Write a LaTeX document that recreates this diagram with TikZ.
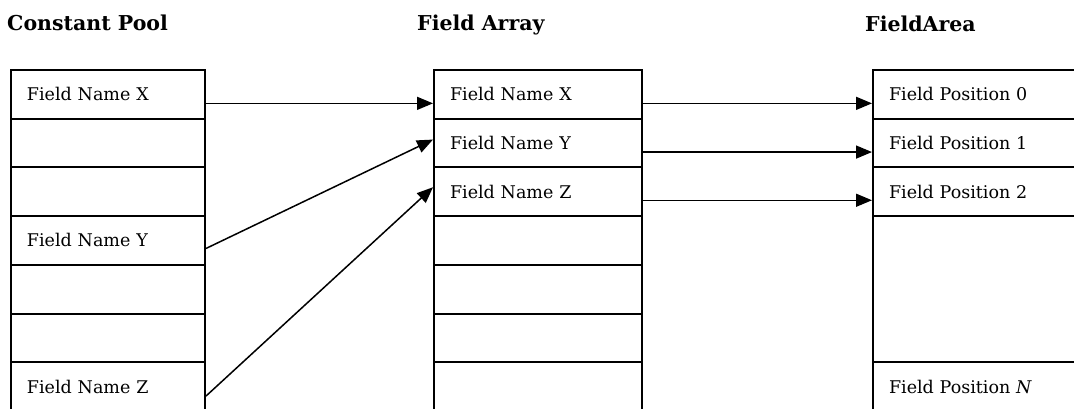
\documentclass[tikz,border=0pt]{standalone}
\usepackage{fontspec}
\setmainfont{DejaVu Serif}
\usetikzlibrary{arrows.meta}
\begin{document}
\begin{tikzpicture}[x=1pt,y=-1pt,
  cell/.style={draw, line width=2pt, anchor=north west, inner xsep=16pt,
    inner ysep=0pt, minimum height=48.7pt, align=left,
    font=\fontsize{17.5}{20}\selectfont},
  cpcell/.style={cell, minimum width=194pt, text width=162pt},
  facell/.style={cell, minimum width=208pt, text width=176pt},
  frcell/.style={cell, minimum width=220pt, text width=188pt},
  title/.style={anchor=base west, inner sep=0pt,
    font=\bfseries\fontsize{20.5}{24}\selectfont},
  link/.style={line width=1.5pt, -{Triangle[length=16pt,width=13pt]}}
]
\useasboundingbox (0,0) rectangle (1074,408);
\clip (0,0) rectangle (1074,408);

% column headings
\node[title] (tcp) at (7,30) {Constant Pool};
\node[title] (tfa) at (417,30) {Field Array};
\node[title] (tfr) at (865,31) {FieldArea};

% constant pool entries
\node[cpcell] (cp1) at (10,69.0)  {Field Name X};
\node[cpcell] (cp2) at (10,117.7) {};
\node[cpcell] (cp3) at (10,166.4) {};
\node[cpcell] (cp4) at (10,215.1) {Field Name Y};
\node[cpcell] (cp5) at (10,263.8) {};
\node[cpcell] (cp6) at (10,312.5) {};
\node[cpcell] (cp7) at (10,361.2) {Field Name Z};

% field array entries
\node[facell] (fa1) at (433,69.0)  {Field Name X};
\node[facell] (fa2) at (433,117.7) {Field Name Y};
\node[facell] (fa3) at (433,166.4) {Field Name Z};
\node[facell] (fa4) at (433,215.1) {};
\node[facell] (fa5) at (433,263.8) {};
\node[facell] (fa6) at (433,312.5) {};
\node[facell] (fa7) at (433,361.2) {};

% field area slots
\node[frcell] (fr0) at (872,69.0)  {Field Position 0};
\node[frcell] (fr1) at (872,117.7) {Field Position 1};
\node[frcell] (fr2) at (872,166.4) {Field Position 2};
\node[frcell, minimum height=146.1pt] (frm) at (872,215.1) {};
\node[frcell] (frn) at (872,361.2) {Field Position \textit{N}};

% constant pool -> field array
\draw[link] ([yshift=-9pt]cp1.east) -- ([yshift=-9pt]fa1.west);
\draw[link] ([yshift=-8pt]cp4.east) -- ([yshift=3.5pt]fa2.west);
\draw[link] ([yshift=-9.5pt]cp7.east) -- ([yshift=4.5pt]fa3.west);

% field array -> field area
\draw[link] ([yshift=-9pt]fa1.east) -- ([yshift=-9pt]fr0.west);
\draw[link] ([yshift=-9pt]fa2.east) -- ([yshift=-9pt]fr1.west);
\draw[link] ([yshift=-8.5pt]fa3.east) -- ([yshift=-8.5pt]fr2.west);
\end{tikzpicture}
\end{document}
